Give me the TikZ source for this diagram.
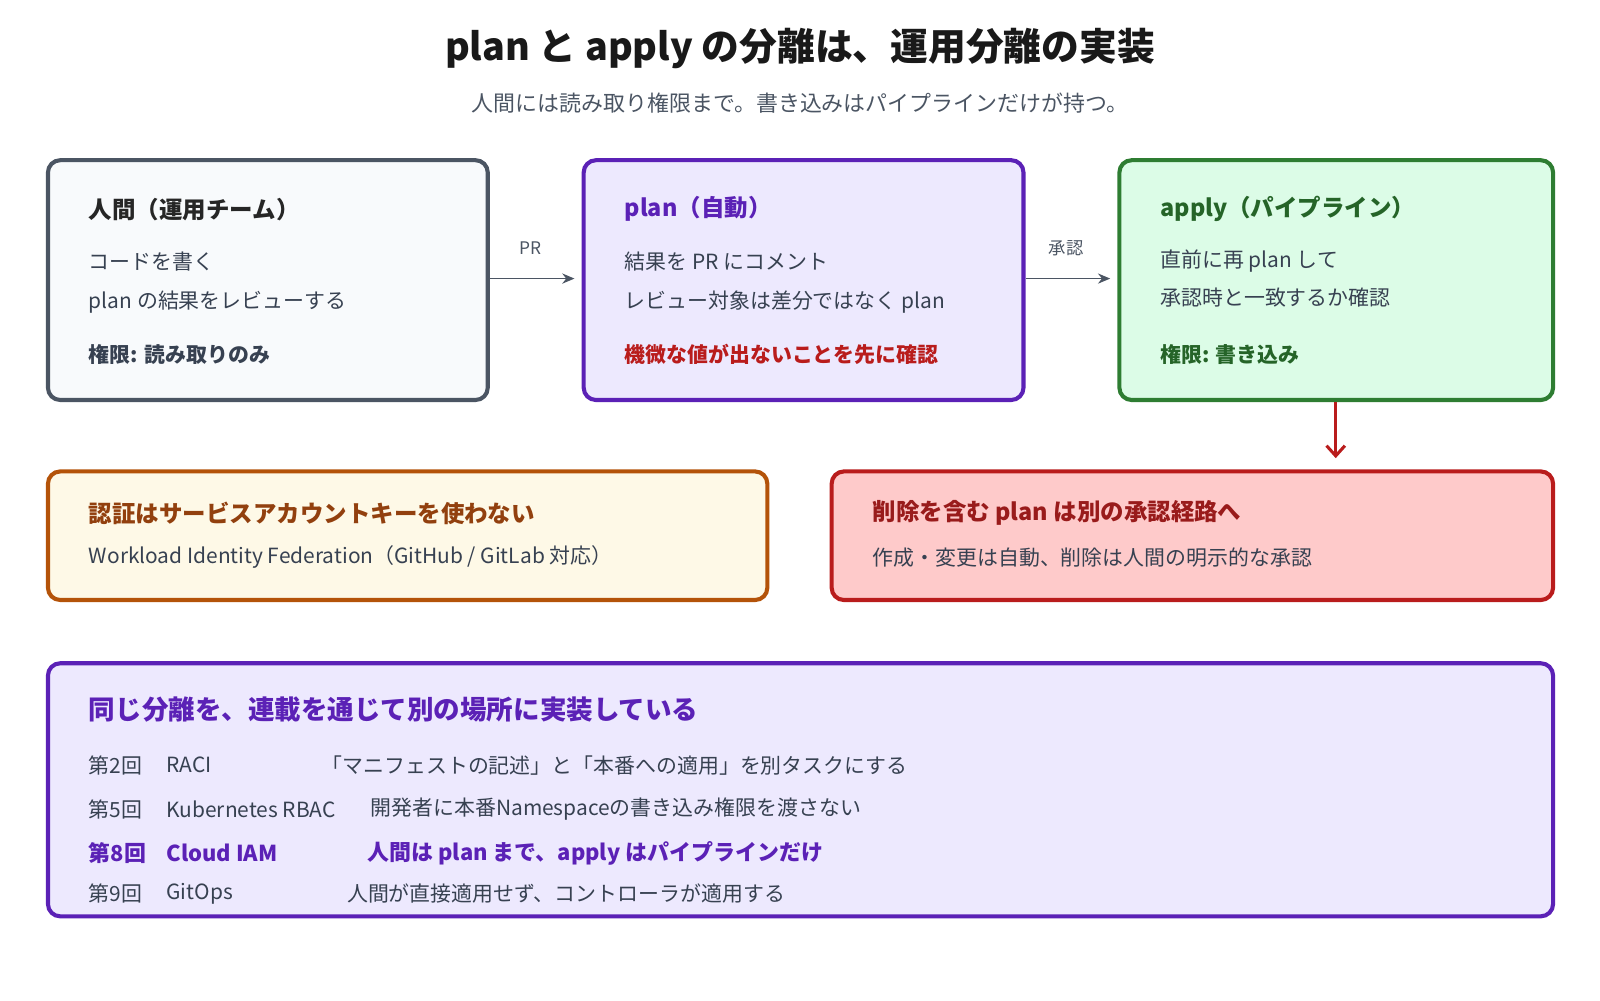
\documentclass[tikz,border=0pt]{standalone}
\usepackage{fontspec}
\setmainfont{Noto Sans CJK JP}
\usetikzlibrary{arrows.meta}
\definecolor{gb}{HTML}{4B5563}\definecolor{gf}{HTML}{F8FAFC}
\definecolor{pb}{HTML}{5B21B6}\definecolor{pf}{HTML}{EDE9FE}
\definecolor{grb}{HTML}{2E7D32}\definecolor{grf}{HTML}{DCFCE7}
\definecolor{ob}{HTML}{B45309}\definecolor{of}{HTML}{FEF9E7}
\definecolor{rb}{HTML}{B91C1C}\definecolor{rf}{HTML}{FECACA}
\definecolor{txt}{HTML}{374151}\definecolor{br}{HTML}{92400E}\definecolor{dr}{HTML}{991B1B}
\begin{document}
\begin{tikzpicture}[x=1pt,y=-1pt,
 box/.style={draw, line width=4pt, rounded corners=12pt},
 t/.style={anchor=west, inner sep=0pt, font=\fontsize{23}{27}\selectfont\bfseries},
 l/.style={anchor=west, inner sep=0pt, text=txt, font=\fontsize{20.5}{24}\selectfont},
 hl/.style={anchor=west, inner sep=0pt, text=pb, font=\fontsize{21.5}{25}\selectfont\bfseries},
 ar/.style={-{Stealth[length=12pt,width=10pt]}, line width=1.5pt, draw=gb}]
\useasboundingbox (0,0) rectangle (1568,980);
\node[font=\fontsize{37}{43}\selectfont\bfseries, text=black!90] (title) at (784,48) {plan と apply の分離は、運用分離の実装};
\node[font=\fontsize{21.5}{25}\selectfont, text=gb] (sub) at (784,101) {人間には読み取り権限まで。書き込みはパイプラインだけが持つ。};
\draw[box, draw=gb, fill=gf] (47,157) rectangle (478,392);
\node[t, text=black!85] (h1) at (87,205) {人間（運用チーム）};
\node[l] (h1a) at (87,256) {コードを書く};
\node[l] (h1b) at (87,296) {plan の結果をレビューする};
\node[l, font=\fontsize{20.5}{24}\selectfont\bfseries] (h1c) at (87,347) {権限: 読み取りのみ};
\draw[box, draw=pb, fill=pf] (572,157) rectangle (1003,392);
\node[t, text=pb] (h2) at (612,205) {plan（自動）};
\node[l] (h2a) at (612,256) {結果を PR にコメント};
\node[l] (h2b) at (612,296) {レビュー対象は差分ではなく plan};
\node[l, text=rb, font=\fontsize{20.5}{24}\selectfont\bfseries] (h2c) at (612,347) {機微な値が出ないことを先に確認};
\draw[box, draw=grb, fill=grf] (1097,157) rectangle (1522,392);
\node[t, text=grb!80!black] (h3) at (1137,205) {apply（パイプライン）};
\node[l] (h3a) at (1137,256) {直前に再 plan して};
\node[l] (h3b) at (1137,292) {承認時と一致するか確認};
\node[l, text=grb!80!black, font=\fontsize{20.5}{24}\selectfont\bfseries] (h3c) at (1137,347) {権限: 書き込み};
\coordinate (a1s) at (480,273); \coordinate (a1e) at (563,273);
\coordinate (a2s) at (1005,273); \coordinate (a2e) at (1088,273);
\draw[ar] (a1s) -- (a1e);
\draw[ar] (a2s) -- (a2e);
\node[text=gb, font=\fontsize{17}{20}\selectfont] (pr) at (520,243) {PR};
\node[text=gb, font=\fontsize{17}{20}\selectfont] (ap) at (1045,243) {承認};
\coordinate (d1) at (1309,394); \coordinate (d2) at (1309,449);
\draw[ar, draw=rb, line width=3pt, -{Straight Barb[length=10pt,width=18pt,line width=3pt]}] (d1) -- (d2);
\draw[box, draw=ob, fill=of] (47,462) rectangle (752,588);
\node[t, text=br] (h4) at (87,503) {認証はサービスアカウントキーを使わない};
\node[l] (h4a) at (87,546) {Workload Identity Federation（GitHub / GitLab 対応）};
\draw[box, draw=rb, fill=rf] (815,462) rectangle (1522,588);
\node[t, text=dr] (h5) at (855,503) {削除を含む plan は別の承認経路へ};
\node[l] (h5a) at (855,546) {作成・変更は自動、削除は人間の明示的な承認};
\draw[box, draw=pb, fill=pf] (47,650) rectangle (1522,898);
\node[t, text=pb, font=\fontsize{26}{30}\selectfont\bfseries] (h6) at (87,695) {同じ分離を、連載を通じて別の場所に実装している};
\node[l] (r1a) at (87,750) {第2回}; \node[l] (r1b) at (163,750) {RACI}; \node[l] (r1c) at (315,750) {「マニフェストの記述」と「本番への適用」を別タスクにする};
\node[l] (r2a) at (87,793) {第5回}; \node[l] (r2b) at (163,793) {Kubernetes RBAC}; \node[l] (r2c) at (363,793) {開発者に本番Namespaceの書き込み権限を渡さない};
\node[hl] (r3a) at (87,836) {第8回}; \node[hl] (r3b) at (163,836) {Cloud IAM}; \node[hl] (r3c) at (360,836) {人間は plan まで、apply はパイプラインだけ};
\node[l] (r4a) at (87,876) {第9回}; \node[l] (r4b) at (163,876) {GitOps}; \node[l] (r4c) at (340,876) {人間が直接適用せず、コントローラが適用する};
\end{tikzpicture}
\end{document}
